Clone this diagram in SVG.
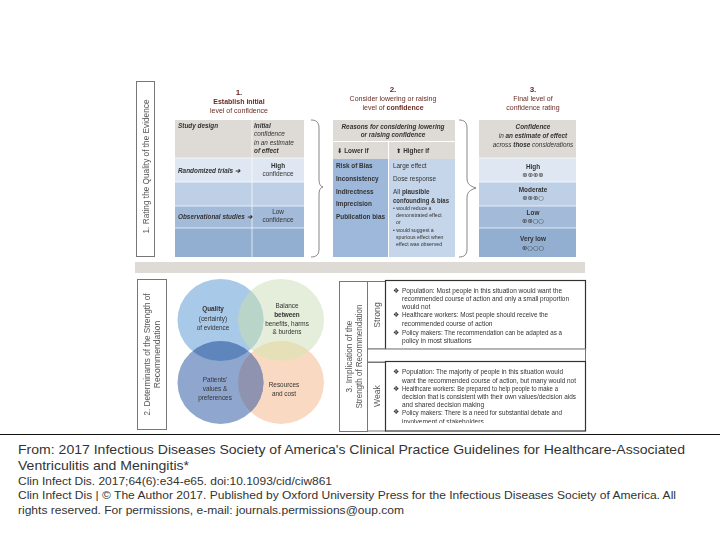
<svg xmlns="http://www.w3.org/2000/svg" width="720" height="540" viewBox="0 0 720 540">
<style>
text{font-family:"Liberation Sans",Arial,sans-serif;fill:#333}
.b{font-weight:bold}.i{font-style:italic}
.t{font-size:6.4px}.m{text-anchor:middle}
.h1{font-size:7px;fill:#6b2a22;text-anchor:middle}
.bx{fill:#fff;stroke:#777;stroke-width:1}
.bk{fill:#fff;stroke:#333;stroke-width:1.2}
.v{font-size:8.6px;fill:#555;text-anchor:middle}
.br{fill:none;stroke:#6f6460;stroke-width:.8}
.p{font-size:6.6px;fill:#333}
.bul{font-family:"DejaVu Sans",sans-serif;font-size:7px;fill:#333}
.foot{font-size:12.7px;fill:#333}.foots{font-size:11px;fill:#333}
.sym{font-family:"DejaVu Sans",sans-serif}
</style>
<defs>
<filter id="soft" x="-2%" y="-2%" width="104%" height="104%"><feGaussianBlur stdDeviation="0.45"/></filter>
<clipPath id="c1"><ellipse cx="220.5" cy="320" rx="43" ry="41"/></clipPath>
<clipPath id="c4"><ellipse cx="281" cy="382.5" rx="43" ry="41.5"/></clipPath>
<clipPath id="weak"><rect x="386" y="362" width="199" height="61"/></clipPath>
</defs>
<rect width="720" height="540" fill="#fff"/>
<g filter="url(#soft)">
<g id="band"><rect x="135" y="262" width="450" height="11" fill="#dedbd6"/></g>
<g id="label-1"><rect class="bx" x="136.500" y="81.500" width="18" height="175"/>
<text class="v" transform="translate(148.500,166.500) rotate(-90)" textLength="134" lengthAdjust="spacingAndGlyphs">1. Rating the Quality of the Evidence</text></g>
<g id="table-1">
<text class="h1 b" x="239" y="95" style="font-size:8px">1.</text>
<text class="h1 b" x="239" y="104">Establish initial</text>
<text class="h1" x="239" y="112.500">level of confidence</text>
<rect x="175" y="120" width="129" height="38" fill="#dedbd6"/>
<rect x="175" y="158" width="129" height="24" fill="#dfe7f2"/>
<rect x="175" y="182" width="129" height="24" fill="#bdd0e6"/>
<rect x="175" y="206" width="129" height="22" fill="#a3bbd8"/>
<rect x="175" y="228" width="129" height="29" fill="#92aed0"/>
<path d="M252 120V257M175 158H304M175 182H304M175 206H304M175 228H304" stroke="#fff" stroke-width=".7" fill="none"/>
<text class="t i b" x="178" y="128">Study design</text>
<text class="t i" x="254" y="128"><tspan class="b">Initial</tspan><tspan x="254" dy="8.300">confidence</tspan><tspan x="254" dy="8.300">in an estimate</tspan><tspan x="254" dy="8.300" class="b">of effect</tspan></text>
<text class="t i b" x="178" y="172.500">Randomized trials ➔</text>
<text class="t m" x="278" y="168"><tspan class="b">High</tspan><tspan x="278" dy="8.300">confidence</tspan></text>
<text class="t i b" x="178" y="218.500">Observational studies ➔</text>
<text class="t m" x="278" y="214"><tspan>Low</tspan><tspan x="278" dy="8.300">confidence</tspan></text>
<path class="br" d="M311 120C316 120 319 122 319 128V178C319 184 320 186 323 187C320 188 319 190 319 196V249C319 255 316 257 311 257"/>
</g>
<g id="table-2">
<text class="h1 b" x="393" y="92" style="font-size:8px">2.</text>
<text class="h1" x="393" y="101">Consider lowering or raising</text>
<text class="h1" x="393" y="110">level of <tspan class="b">confidence</tspan></text>
<rect x="333" y="120" width="122" height="21" fill="#dedbd6"/>
<rect x="333" y="142" width="55" height="17" fill="#dedbd6"/>
<rect x="389" y="142" width="66" height="17" fill="#dedbd6"/>
<rect x="333" y="159" width="55" height="98" fill="#9db8da"/>
<rect x="389" y="159" width="66" height="98" fill="#c6d6ea"/>
<text class="t i m" x="393" y="128.500"><tspan class="b">Reasons for considering lowering</tspan><tspan x="393" dy="8.300" class="b">or raising confidence</tspan></text>
<text class="t b" x="337" y="153"><tspan class="sym">⬇</tspan> Lower if</text>
<text class="t b" x="396" y="153"><tspan class="sym">⬆</tspan> Higher if</text>
<text class="t b" x="336" y="168">Risk of Bias</text>
<text class="t b" x="336" y="181">Inconsistency</text>
<text class="t b" x="336" y="194">Indirectness</text>
<text class="t b" x="336" y="206">Imprecision</text>
<text class="t b" x="336" y="219">Publication bias</text>
<text class="t" x="393" y="168">Large effect</text>
<text class="t" x="393" y="181">Dose response</text>
<text class="t" x="393" y="194">All <tspan class="b">plausible</tspan></text>
<text class="t b" x="393" y="202.500" textLength="56" lengthAdjust="spacingAndGlyphs">confounding &amp; bias</text>
<text x="393" y="210" style="font-size:5.200px">• would reduce a</text>
<text x="396" y="217" style="font-size:5.200px">demonstrated effect</text>
<text x="396" y="224" style="font-size:5.200px">or</text>
<text x="393" y="232" style="font-size:5.200px">• would suggest a</text>
<text x="396" y="239" style="font-size:5.200px">spurious effect when</text>
<text x="396" y="246" style="font-size:5.200px">effect was observed</text>
<path class="br" d="M459 120C464 120 467 122 467 128V178C467 184 470 186 476 188C470 190 467 192 467 198V249C467 255 464 257 459 257"/>
</g>
<g id="table-3">
<text class="h1 b" x="533" y="92" style="font-size:8px">3.</text>
<text class="h1" x="533" y="101">Final level of</text>
<text class="h1" x="533" y="110">confidence rating</text>
<rect x="479" y="120" width="97" height="38" fill="#dedbd6"/>
<rect x="479" y="158" width="97" height="24" fill="#dfe7f2"/>
<rect x="479" y="182" width="97" height="24" fill="#bdd0e6"/>
<rect x="479" y="206" width="97" height="22" fill="#a3bbd8"/>
<rect x="479" y="228" width="97" height="29" fill="#92aed0"/>
<path d="M479 158H576M479 182H576M479 206H576M479 228H576" stroke="#fff" stroke-width=".7" fill="none"/>
<text class="t i m" x="533" y="129"><tspan class="b">Confidence</tspan><tspan x="533" dy="9">in <tspan class="b">an estimate of effect</tspan></tspan><tspan x="533" dy="9">across <tspan class="b">those</tspan> considerations</tspan></text>
<text class="t m b" x="533" y="169">High</text><text class="t m sym" x="533" y="177">⊕⊕⊕⊕</text>
<text class="t m b" x="533" y="192">Moderate</text><text class="t m sym" x="533" y="200">⊕⊕⊕○</text>
<text class="t m b" x="533" y="215">Low</text><text class="t m sym" x="533" y="223">⊕⊕○○</text>
<text class="t m b" x="533" y="241">Very low</text><text class="t m sym" x="533" y="250">⊕○○○</text>
</g>
<g id="label-2"><rect class="bx" x="137.500" y="279.500" width="29" height="150"/>
<text class="v" transform="translate(150,354.500) rotate(-90)" textLength="122" lengthAdjust="spacingAndGlyphs">2. Determinants of the Strength of</text>
<text class="v" transform="translate(160,354.500) rotate(-90)">Recommendation</text></g>
<g id="venn">
<ellipse cx="281" cy="320" rx="43" ry="41" fill="#e4eeda"/>
<ellipse cx="281" cy="382.500" rx="43" ry="41.500" fill="#f9d9c2"/>
<ellipse cx="220.500" cy="320" rx="43" ry="41" fill="#a9c9e8"/>
<ellipse cx="220.500" cy="382.500" rx="43" ry="41.500" fill="#8fa7cf"/>
<ellipse cx="281" cy="320" rx="43" ry="41" fill="#b9d4c9" clip-path="url(#c1)"/>
<ellipse cx="281" cy="320" rx="43" ry="41" fill="#e6e0b9" clip-path="url(#c4)"/>
<ellipse cx="220.500" cy="382.500" rx="43" ry="41.500" fill="#5f86bc" clip-path="url(#c1)"/>
<ellipse cx="220.500" cy="382.500" rx="43" ry="41.500" fill="#8f93b0" clip-path="url(#c4)"/>
</g>
<g id="n-quality"><text class="t m b" x="213" y="311">Quality</text><text class="t m" x="213" y="320.500">(certainty)</text><text class="t m" x="213" y="330">of evidence</text></g>
<g id="n-balance"><text class="t m" x="287" y="308">Balance</text><text class="t m b" x="287" y="317">between</text><text class="t m" x="287" y="325.500">benefits, harms</text><text class="t m" x="287" y="333.500">&amp; burdens</text></g>
<g id="n-patient"><text class="t m" x="215" y="382">Patients'</text><text class="t m" x="215" y="391">values &amp;</text><text class="t m" x="215" y="400">preferences</text></g>
<g id="n-resources"><text class="t m" x="284" y="387">Resources</text><text class="t m" x="284" y="396">and cost</text></g>
<g id="label-3"><rect class="bx" x="339.500" y="281.500" width="28" height="150"/>
<text class="v" transform="translate(352,356.500) rotate(-90)" style="font-size:8.300px">3. Implication of the</text>
<text class="v" transform="translate(362,356.500) rotate(-90)" textLength="104" lengthAdjust="spacingAndGlyphs">Strength of Recommendation</text></g>
<g id="strong">
<rect class="bx" x="367.500" y="281.500" width="18" height="67.500"/>
<text class="v" transform="translate(380,315) rotate(-90)">Strong</text>
<rect class="bk" x="385.500" y="280.500" width="200" height="69"/>
<text class="bul" x="393" y="293">❖</text><text class="bul" x="393" y="317">❖</text><text class="bul" x="393" y="335">❖</text>
<text class="p" x="402" y="293" textLength="160" lengthAdjust="spacingAndGlyphs">Population: Most people in this situation would want the</text>
<text class="p" x="402" y="301" textLength="167" lengthAdjust="spacingAndGlyphs">recommended course of action and only a small proportion</text>
<text class="p" x="402" y="309">would not</text>
<text class="p" x="402" y="317" textLength="146" lengthAdjust="spacingAndGlyphs">Healthcare workers: Most people should receive the</text>
<text class="p" x="402" y="326">recommended course of action</text>
<text class="p" x="402" y="335" textLength="160" lengthAdjust="spacingAndGlyphs">Policy makers: The recommendation can be adapted as a</text>
<text class="p" x="402" y="343">policy in most situations</text>
</g>
<g id="gap"><rect class="bx" x="367.500" y="349" width="218" height="13" stroke="#999"/></g>
<g id="weak-row">
<rect class="bx" x="367.500" y="362.500" width="18" height="68.500"/>
<text class="v" transform="translate(380,396) rotate(-90)">Weak</text>
<rect class="bk" x="385.500" y="361.500" width="200" height="69.500"/>
<text class="bul" x="393" y="374">❖</text><text class="bul" x="393" y="391">❖</text><text class="bul" x="393" y="414">❖</text>
<g clip-path="url(#weak)">
<text class="p" x="402" y="374" textLength="161" lengthAdjust="spacingAndGlyphs">Population: The majority of people in this situation would</text>
<text class="p" x="402" y="383" textLength="174" lengthAdjust="spacingAndGlyphs">want the recommended course of action, but many would not</text>
<text class="p" x="402" y="391" textLength="156" lengthAdjust="spacingAndGlyphs">Healthcare workers: Be prepared to help people to make a</text>
<text class="p" x="402" y="399" textLength="174" lengthAdjust="spacingAndGlyphs">decision that is consistent with their own values/decision aids</text>
<text class="p" x="402" y="407">and shared decision making</text>
<text class="p" x="402" y="415" textLength="160" lengthAdjust="spacingAndGlyphs">Policy makers: There is a need for substantial debate and</text>
<text class="p" x="402" y="424">involvement of stakeholders</text>
</g>
</g>
</g>
<g id="caption">
<path d="M0 434.500H720" stroke="#111" stroke-width="1"/>
<text class="foot" x="18" y="454" textLength="667" lengthAdjust="spacingAndGlyphs">From: 2017 Infectious Diseases Society of America's Clinical Practice Guidelines for Healthcare-Associated</text>
<text class="foot" x="18" y="470" textLength="171" lengthAdjust="spacingAndGlyphs">Ventriculitis and Meningitis*</text>
<text class="foots" x="18" y="485" textLength="314" lengthAdjust="spacingAndGlyphs">Clin Infect Dis. 2017;64(6):e34-e65. doi:10.1093/cid/ciw861</text>
<text class="foots" x="18" y="499" textLength="658" lengthAdjust="spacingAndGlyphs">Clin Infect Dis | © The Author 2017. Published by Oxford University Press for the Infectious Diseases Society of America. All</text>
<text class="foots" x="18" y="514" textLength="386" lengthAdjust="spacingAndGlyphs">rights reserved. For permissions, e-mail: journals.permissions@oup.com</text>
</g>
</svg>
